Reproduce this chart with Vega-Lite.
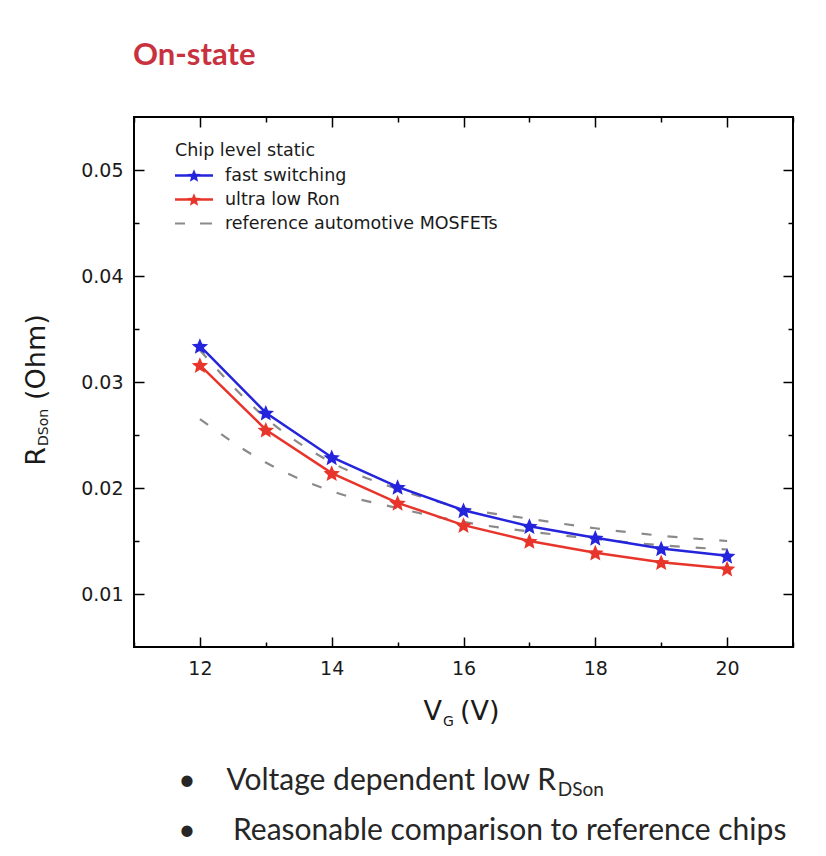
{
  "$schema": "https://vega.github.io/schema/vega-lite/v6.json",
  "width": 659,
  "height": 530,
  "autosize": {"type": "none"},
  "padding": {"left": 134, "top": 117, "right": 33, "bottom": 209},
  "background": "white",
  "config": {
    "view": {"stroke": "black", "strokeWidth": 2},
    "axis": {"grid": false, "domain": false, "tickColor": "black", "tickWidth": 1.5, "labelFont": "DejaVu Sans", "labelFontSize": 19, "labelColor": "#1a1a1a", "title": null}
  },
  "datasets": {
    "measured": [
      {"vg": 12, "r": 0.0334, "series": "fast switching"},
      {"vg": 13, "r": 0.0271, "series": "fast switching"},
      {"vg": 14, "r": 0.0229, "series": "fast switching"},
      {"vg": 15, "r": 0.0201, "series": "fast switching"},
      {"vg": 16, "r": 0.0179, "series": "fast switching"},
      {"vg": 17, "r": 0.0164, "series": "fast switching"},
      {"vg": 18, "r": 0.0153, "series": "fast switching"},
      {"vg": 19, "r": 0.0143, "series": "fast switching"},
      {"vg": 20, "r": 0.0136, "series": "fast switching"},
      {"vg": 12, "r": 0.0316, "series": "ultra low Ron"},
      {"vg": 13, "r": 0.0255, "series": "ultra low Ron"},
      {"vg": 14, "r": 0.0214, "series": "ultra low Ron"},
      {"vg": 15, "r": 0.0186, "series": "ultra low Ron"},
      {"vg": 16, "r": 0.0165, "series": "ultra low Ron"},
      {"vg": 17, "r": 0.0150, "series": "ultra low Ron"},
      {"vg": 18, "r": 0.0139, "series": "ultra low Ron"},
      {"vg": 19, "r": 0.0130, "series": "ultra low Ron"},
      {"vg": 20, "r": 0.0124, "series": "ultra low Ron"}
    ],
    "reference": [
      {"vg": 12, "r": 0.0330, "curve": "MOSFET A"},
      {"vg": 13, "r": 0.0266, "curve": "MOSFET A"},
      {"vg": 14, "r": 0.0224, "curve": "MOSFET A"},
      {"vg": 15, "r": 0.0199, "curve": "MOSFET A"},
      {"vg": 16, "r": 0.0181, "curve": "MOSFET A"},
      {"vg": 17, "r": 0.0171, "curve": "MOSFET A"},
      {"vg": 18, "r": 0.0162, "curve": "MOSFET A"},
      {"vg": 19, "r": 0.0155, "curve": "MOSFET A"},
      {"vg": 20, "r": 0.0150, "curve": "MOSFET A"},
      {"vg": 12, "r": 0.0265, "curve": "MOSFET B"},
      {"vg": 13, "r": 0.0224, "curve": "MOSFET B"},
      {"vg": 14, "r": 0.0197, "curve": "MOSFET B"},
      {"vg": 15, "r": 0.0181, "curve": "MOSFET B"},
      {"vg": 16, "r": 0.0168, "curve": "MOSFET B"},
      {"vg": 17, "r": 0.0159, "curve": "MOSFET B"},
      {"vg": 18, "r": 0.0152, "curve": "MOSFET B"},
      {"vg": 19, "r": 0.0146, "curve": "MOSFET B"},
      {"vg": 20, "r": 0.0142, "curve": "MOSFET B"}
    ],
    "one": [{}]
  },
  "resolve": {"axis": {"x": "independent", "y": "independent"}},
  "layer": [
    {
      "data": {"name": "reference"},
      "mark": {"type": "line", "color": "#8a8a8a", "strokeWidth": 2.2, "strokeDash": [10, 16], "interpolate": "monotone"},
      "encoding": {
        "x": {"field": "vg", "type": "quantitative", "scale": {"domain": [11, 21], "nice": false, "zero": false},
              "axis": {"orient": "bottom", "values": [12, 14, 16, 18, 20], "tickSize": -10, "labelPadding": 22}},
        "y": {"field": "r", "type": "quantitative", "scale": {"domain": [0.005, 0.055], "nice": false, "zero": false},
              "axis": {"orient": "left", "values": [0.01, 0.02, 0.03, 0.04, 0.05], "format": ".2f", "tickSize": -10, "labelPadding": 21}},
        "detail": {"field": "curve"}
      }
    },
    {
      "data": {"name": "measured"},
      "transform": [{"filter": "datum.series === 'ultra low Ron'"}],
      "mark": {"type": "line", "color": "#e8352b", "strokeWidth": 2.5},
      "encoding": {
        "x": {"field": "vg", "type": "quantitative", "axis": {"orient": "bottom", "values": [11, 13, 15, 17, 19, 21], "tickSize": -5, "labels": false}},
        "y": {"field": "r", "type": "quantitative", "axis": {"orient": "left", "values": [0.015, 0.025, 0.035, 0.045], "tickSize": -5, "labels": false}}
      }
    },
    {
      "data": {"name": "measured"},
      "transform": [{"filter": "datum.series === 'fast switching'"}],
      "mark": {"type": "line", "color": "#2424dc", "strokeWidth": 2.5},
      "encoding": {
        "x": {"field": "vg", "type": "quantitative", "axis": {"orient": "top", "values": [12, 14, 16, 18, 20], "tickSize": -10, "labels": false}},
        "y": {"field": "r", "type": "quantitative", "axis": {"orient": "right", "values": [0.01, 0.02, 0.03, 0.04, 0.05], "tickSize": -10, "labels": false}}
      }
    },
    {
      "data": {"name": "measured"},
      "mark": {"type": "point", "filled": true, "opacity": 1, "size": 300, "shape": "M0,-0.9L0.2645,-0.264L0.951,-0.209L0.428,0.239L0.588,0.909L0,0.55L-0.588,0.909L-0.428,0.239L-0.951,-0.209L-0.2645,-0.264Z"},
      "encoding": {
        "x": {"field": "vg", "type": "quantitative", "axis": {"orient": "top", "values": [11, 13, 15, 17, 19, 21], "tickSize": -5, "labels": false}},
        "y": {"field": "r", "type": "quantitative", "axis": {"orient": "right", "values": [0.015, 0.025, 0.035, 0.045], "tickSize": -5, "labels": false}},
        "color": {
          "field": "series", "type": "nominal",
          "scale": {"domain": ["fast switching", "ultra low Ron", "reference automotive MOSFETs"], "range": ["#2424dc", "#e8352b", "#8a8a8a"]},
          "legend": {
            "orient": "none", "legendX": 41, "legendY": 25,
            "title": "Chip level static", "titleFont": "DejaVu Sans", "titleFontSize": 17.5, "titleFontWeight": "normal", "titleColor": "#1a1a1a", "titlePadding": 6,
            "labelFont": "DejaVu Sans", "labelFontSize": 17.5, "labelColor": "#1a1a1a", "labelOffset": 30, "labelLimit": 0,
            "symbolSize": 400, "symbolStrokeWidth": 0, "symbolOpacity": 1, "rowPadding": 5,
            "symbolType": "M-1,-0.12H2.8V0.12H-1Z M0.9,-0.63L1.085,-0.185L1.566,-0.146L1.2,0.167L1.312,0.636L0.9,0.385L0.488,0.636L0.6,0.167L0.234,-0.146L0.715,-0.185Z",
            "encode": {"symbols": {"update": {"shape": {"signal": "datum.value === 'reference automotive MOSFETs' ? 'M-1,-0.1H0V0.1H-1Z M1.5,-0.1H2.7V0.1H1.5Z' : 'M-1,-0.12H2.8V0.12H-1Z M0.9,-0.63L1.085,-0.185L1.566,-0.146L1.2,0.167L1.312,0.636L0.9,0.385L0.488,0.636L0.6,0.167L0.234,-0.146L0.715,-0.185Z'"}}}}
          }
        }
      }
    },
    {
      "data": {"name": "one"},
      "mark": {"type": "text", "text": "On-state", "font": "Lato", "fontSize": 31, "fontWeight": "bold", "color": "#c8323f", "align": "left", "baseline": "alphabetic"},
      "encoding": {"x": {"datum": 10.985, "type": "quantitative", "axis": null}, "y": {"datum": 0.0599, "type": "quantitative", "axis": null}}
    },
    {
      "data": {"name": "one"},
      "mark": {"type": "text", "text": "R", "font": "DejaVu Sans", "fontSize": 27, "color": "#1a1a1a", "angle": 270, "align": "right", "baseline": "alphabetic"},
      "encoding": {"x": {"datum": 9.642, "type": "quantitative", "axis": null}, "y": {"datum": 0.02387, "type": "quantitative", "axis": null}}
    },
    {
      "data": {"name": "one"},
      "mark": {"type": "text", "text": "DSon", "font": "DejaVu Sans", "fontSize": 14, "color": "#1a1a1a", "angle": 270, "align": "left", "baseline": "alphabetic"},
      "encoding": {"x": {"datum": 9.7, "type": "quantitative", "axis": null}, "y": {"datum": 0.02396, "type": "quantitative", "axis": null}}
    },
    {
      "data": {"name": "one"},
      "mark": {"type": "text", "text": "(Ohm)", "font": "DejaVu Sans", "fontSize": 27, "color": "#1a1a1a", "angle": 270, "align": "left", "baseline": "alphabetic"},
      "encoding": {"x": {"datum": 9.642, "type": "quantitative", "axis": null}, "y": {"datum": 0.0283, "type": "quantitative", "axis": null}}
    },
    {
      "data": {"name": "one"},
      "mark": {"type": "text", "text": "V", "font": "DejaVu Sans", "fontSize": 27, "color": "#1a1a1a", "align": "right", "baseline": "alphabetic"},
      "encoding": {"x": {"datum": 15.674, "type": "quantitative", "axis": null}, "y": {"datum": -0.00189, "type": "quantitative", "axis": null}}
    },
    {
      "data": {"name": "one"},
      "mark": {"type": "text", "text": "G", "font": "DejaVu Sans", "fontSize": 14, "color": "#1a1a1a", "align": "left", "baseline": "alphabetic"},
      "encoding": {"x": {"datum": 15.689, "type": "quantitative", "axis": null}, "y": {"datum": -0.00245, "type": "quantitative", "axis": null}}
    },
    {
      "data": {"name": "one"},
      "mark": {"type": "text", "text": "(V)", "font": "DejaVu Sans", "fontSize": 27, "color": "#1a1a1a", "align": "left", "baseline": "alphabetic"},
      "encoding": {"x": {"datum": 15.947, "type": "quantitative", "axis": null}, "y": {"datum": -0.00189, "type": "quantitative", "axis": null}}
    },
    {
      "data": {"name": "one"},
      "mark": {"type": "text", "text": "•", "font": "Lato", "fontSize": 30, "color": "#262626", "align": "center", "baseline": "alphabetic"},
      "encoding": {"x": {"datum": 11.804, "type": "quantitative", "axis": null}, "y": {"datum": -0.0085, "type": "quantitative", "axis": null}}
    },
    {
      "data": {"name": "one"},
      "mark": {"type": "text", "text": "•", "font": "Lato", "fontSize": 30, "color": "#262626", "align": "center", "baseline": "alphabetic"},
      "encoding": {"x": {"datum": 11.804, "type": "quantitative", "axis": null}, "y": {"datum": -0.01321, "type": "quantitative", "axis": null}}
    },
    {
      "data": {"name": "one"},
      "mark": {"type": "text", "text": "Voltage dependent low R", "font": "Lato", "fontSize": 30, "color": "#262626", "align": "right", "baseline": "alphabetic"},
      "encoding": {"x": {"datum": 17.404, "type": "quantitative", "axis": null}, "y": {"datum": -0.0085, "type": "quantitative", "axis": null}}
    },
    {
      "data": {"name": "one"},
      "mark": {"type": "text", "text": "DSon", "font": "Lato", "fontSize": 19, "color": "#262626", "align": "left", "baseline": "alphabetic"},
      "encoding": {"x": {"datum": 17.43, "type": "quantitative", "axis": null}, "y": {"datum": -0.00906, "type": "quantitative", "axis": null}}
    },
    {
      "data": {"name": "one"},
      "mark": {"type": "text", "text": "Reasonable comparison to reference chips", "font": "Lato", "fontSize": 30, "color": "#262626", "align": "left", "baseline": "alphabetic"},
      "encoding": {"x": {"datum": 12.502, "type": "quantitative", "axis": null}, "y": {"datum": -0.01321, "type": "quantitative", "axis": null}}
    }
  ]
}
